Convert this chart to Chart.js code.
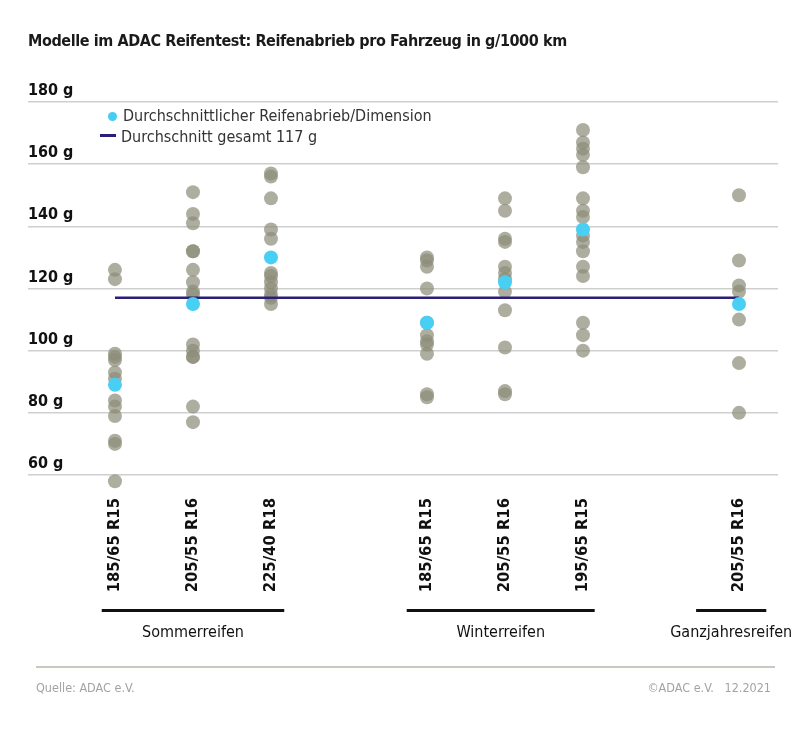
<!DOCTYPE html>
<html>
<head>
<meta charset="utf-8">
<script src="https://cdn.jsdelivr.net/npm/chart.js@4.4.1/dist/chart.umd.min.js"></script>
<style>
  body { margin: 0; background: #fff; }
  #wrap { position: relative; width: 810px; height: 732px; font-family: "Liberation Sans Narrow", "DejaVu Sans Condensed", sans-serif; color: #1a1a1a; }
  #chart { position: absolute; left: 0; top: 0; }
  .title { position: absolute; left: 28px; top: 31px; font-size: 16px; font-weight: bold; letter-spacing: -0.4px; white-space: nowrap; }
  .legend { position: absolute; left: 100px; top: 105px; font-size: 16px; color: #333; line-height: 21px; }
  .legend .dot { display: inline-block; width: 9px; height: 9px; border-radius: 50%; background: #45cdf2; margin: 0 6px 0 8px; }
  .legend .dash { display: inline-block; width: 16px; height: 3px; background: #2a1f78; margin: 0 5px 4px 0; vertical-align: middle; }
  .footer-line { position: absolute; left: 36px; top: 666px; width: 739px; height: 2px; background: #c9c9c0; }
  .footer { position: absolute; top: 680px; font-size: 12.5px; color: #a3a3a3; white-space: nowrap; }
</style>
</head>
<body>
<div id="wrap">
  <canvas id="chart" width="810" height="732"></canvas>
  <div class="title">Modelle im ADAC Reifentest: Reifenabrieb pro Fahrzeug in g/1000 km</div>
  <div class="legend">
    <div><span class="dot"></span>Durchschnittlicher Reifenabrieb/Dimension</div>
    <div><span class="dash"></span>Durchschnitt gesamt 117 g</div>
  </div>
  <div class="footer-line"></div>
  <div class="footer" style="left:36px">Quelle: ADAC e.V.</div>
  <div class="footer" style="right:39px">©ADAC e.V.&nbsp;&nbsp; 12.2021</div>
</div>
<script>
// tyre abrasion per model, grams per 1000 km
const FONT = '"Liberation Sans Narrow", "DejaVu Sans Condensed", sans-serif';

const categories = ["185/65 R15", "205/55 R16", "225/40 R18", "", "185/65 R15", "205/55 R16", "195/65 R15", "", "205/55 R16"];
const yTicks = [60, 80, 100, 120, 140, 160, 180];

const summer185 = [126, 123, 99, 98, 97, 93, 91, 84, 82, 79, 71, 70, 58];
const summer205 = [151, 144, 141, 132, 132, 126, 122, 119, 118, 102, 100, 98, 98, 82, 77];
const summer225 = [157, 156, 149, 139, 136, 125, 124, 122, 120, 118, 117, 115];
const winter185 = [130, 129, 127, 120, 109, 105, 103, 102, 99, 86, 85];
const winter205 = [149, 145, 136, 135, 127, 125, 123, 119, 113, 101, 87, 86];
const winter195 = [171, 167, 165, 163, 159, 149, 145, 143, 137, 135, 132, 127, 124, 109, 105, 100];
const allSeason205 = [150, 129, 121, 119, 110, 96, 80];

const dimensionAverages = [89, 115, 130, null, 109, 122, 139, null, 115];
const overallAverage = 117;

const groupNames = ["Sommerreifen", "Winterreifen", "Ganzjahresreifen"];
// bracket extent under each group, in category units
const groupSpans = [[-0.17, 2.17], [3.74, 6.15], [7.45, 8.35]];

const columns = [summer185, summer205, summer225, [], winter185, winter205, winter195, [], allSeason205];

const modelPoints = [];
columns.forEach((vals, i) => vals.forEach(v => modelPoints.push({ x: i, y: v })));

const avgPoints = [];
dimensionAverages.forEach((v, i) => { if (v !== null) avgPoints.push({ x: i, y: v }); });

const groupBrackets = {
  id: "groupBrackets",
  afterDraw(chart) {
    const ctx = chart.ctx;
    const xs = chart.scales.x;
    ctx.save();
    groupSpans.forEach((span, i) => {
      const x1 = xs.getPixelForValue(span[0]);
      const x2 = xs.getPixelForValue(span[1]);
      ctx.fillStyle = "#111";
      ctx.fillRect(x1, 609, x2 - x1, 3);
      ctx.font = "16px " + FONT;
      ctx.textAlign = "center";
      ctx.textBaseline = "alphabetic";
      ctx.fillText(groupNames[i], (x1 + x2) / 2, 637);
    });
    ctx.restore();
  }
};

new Chart(document.getElementById("chart"), {
  type: "scatter",
  data: {
    datasets: [
      {
        data: avgPoints,
        backgroundColor: "#47cff4",
        borderWidth: 0,
        pointRadius: 7,
        clip: false,
        order: 0
      },
      {
        type: "line",
        data: [{ x: 0, y: overallAverage }, { x: 8, y: overallAverage }],
        borderColor: "#2a1f78",
        borderWidth: 2.5,
        pointRadius: 0,
        order: 1
      },
      {
        data: modelPoints,
        backgroundColor: "rgba(140,140,120,0.7)",
        borderWidth: 0,
        pointRadius: 7,
        clip: false,
        order: 2
      }
    ]
  },
  options: {
    responsive: false,
    animation: false,
    layout: { padding: { top: 102, left: 28, right: 32, bottom: 120 } },
    plugins: { legend: { display: false }, tooltip: { enabled: false } },
    scales: {
      x: {
        type: "linear",
        min: -1.115,
        max: 8.5,
        afterBuildTicks: (s) => { s.ticks = categories.map((c, i) => ({ value: i })); },
        afterFit: (s) => { s.height = 137; },
        grid: { display: false },
        border: { display: false },
        ticks: {
          minRotation: 90,
          maxRotation: 90,
          padding: 15,
          color: "#111",
          font: { family: FONT, size: 16.5, weight: "bold" },
          callback: (v) => categories[v]
        }
      },
      y: {
        min: 60,
        max: 180,
        afterBuildTicks: (s) => { s.ticks = yTicks.map(v => ({ value: v })); },
        afterFit: (s) => { s.width = 0; },
        grid: { color: "#cfcfcf", lineWidth: 1.5, drawTicks: false },
        border: { display: false },
        ticks: {
          mirror: true,
          padding: 0,
          labelOffset: -11,
          color: "#111",
          font: { family: FONT, size: 16, weight: "bold" },
          callback: (v) => v + " g"
        }
      }
    }
  },
  plugins: [groupBrackets]
});
</script>
</body>
</html>
